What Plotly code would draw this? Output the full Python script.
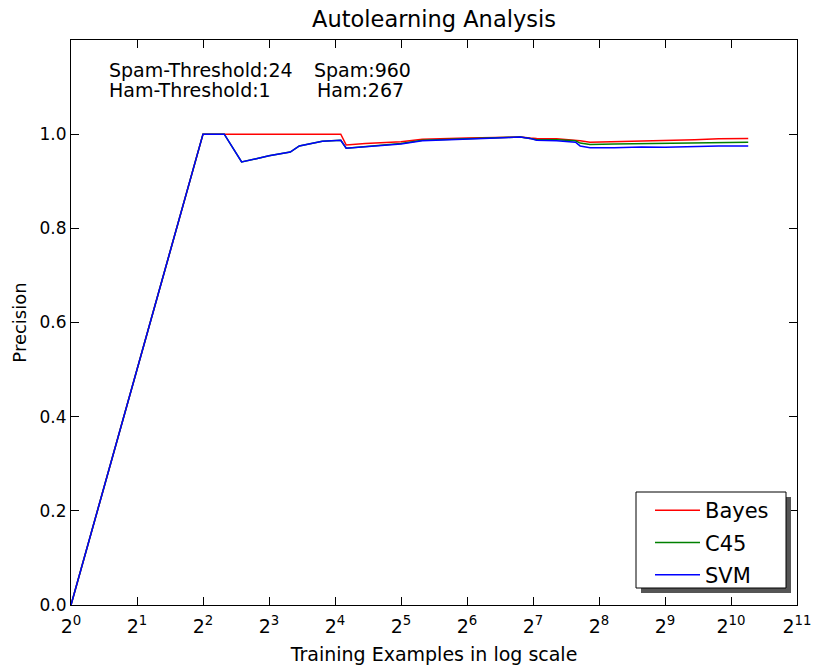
import plotly.graph_objects as go

# Training examples (x) and precision for each classifier
x_examples = [1, 4, 5, 6, 7, 8, 10, 11, 14, 17, 18, 22, 32, 40, 64, 112, 124, 133, 164,
              200, 210, 233, 300, 400, 512, 700, 900, 1227]
bayes = [0.0, 1.0, 1.0, 1.0, 1.0, 1.0, 1.0, 1.0, 1.0, 1.0, 0.977, 0.980, 0.984, 0.989,
         0.992, 0.994, 0.992, 0.991, 0.990, 0.988, 0.986, 0.983, 0.984, 0.985, 0.987,
         0.988, 0.990, 0.991]
c45 = [0.0, 1.0, 1.0, 0.941, 0.948, 0.954, 0.962, 0.975, 0.985, 0.987, 0.970, 0.973,
       0.980, 0.987, 0.990, 0.994, 0.991, 0.988, 0.988, 0.986, 0.981, 0.978, 0.979,
       0.980, 0.981, 0.982, 0.982, 0.983]
svm = [0.0, 1.0, 1.0, 0.941, 0.948, 0.954, 0.962, 0.975, 0.985, 0.987, 0.970, 0.973,
       0.979, 0.986, 0.990, 0.994, 0.991, 0.987, 0.986, 0.983, 0.975, 0.971, 0.971,
       0.973, 0.972, 0.974, 0.975, 0.975]

series_names = ["Bayes", "C45", "SVM"]
series_values = [bayes, c45, svm]
series_colors = ["#ff0000", "#008000", "#0000ff"]

x_tick_vals = [2 ** k for k in range(12)]
x_tick_text = [f"2<sup>{k}</sup>" for k in range(12)]
y_tick_vals = [0.0, 0.2, 0.4, 0.6, 0.8, 1.0]
y_tick_text = ["0.0", "0.2", "0.4", "0.6", "0.8", "1.0"]

FONT = "DejaVu Sans"

fig = go.Figure()
for name, vals, col in zip(series_names, series_values, series_colors):
    fig.add_trace(go.Scatter(x=x_examples, y=vals, mode="lines", name=name,
                             legendgroup=name,
                             line=dict(color=col, width=1.5)))

W, H = 815, 671
L, T = 71, 40
R = W - 797
B = H - 605
pw, ph = W - L - R, H - T - B

def px(xp):
    return (xp - L) / pw

def py(yp):
    return (H - B - yp) / ph

fig.update_layout(
    width=W, height=H,
    margin=dict(l=L, r=R, t=T, b=B, autoexpand=False),
    paper_bgcolor="white", plot_bgcolor="white",
    font=dict(family=FONT, color="black", size=17),
    title=dict(text="Autolearning Analysis", x=px(434), xref="paper", xanchor="center",
               y=1 - 19 / H, yanchor="middle", yref="container",
               font=dict(size=22.5, family=FONT, color="black")),
    showlegend=True,
    legend=dict(x=px(650), xanchor="left", y=py(490), yanchor="top",
                bgcolor="rgba(0,0,0,0)", borderwidth=0,
                font=dict(size=21, family=FONT, color="black"),
                itemwidth=45, tracegroupgap=2),
)

fig.update_xaxes(type="log", range=[0, 11 * 0.30103], tickvals=x_tick_vals,
                 ticktext=x_tick_text, ticks="inside", ticklen=8, tickcolor="black",
                 showline=True, linecolor="black", linewidth=1, mirror="ticks",
                 showgrid=False, zeroline=False, tickfont=dict(size=19),
                 ticklabelstandoff=4, automargin=False,
                 title=dict(text="Training Examples in log scale",
                            font=dict(size=19), standoff=11))
fig.update_yaxes(range=[0, 1.2], tickvals=y_tick_vals, ticktext=y_tick_text,
                 ticks="inside", ticklen=8, tickcolor="black",
                 showline=True, linecolor="black", linewidth=1, mirror="ticks",
                 showgrid=False, zeroline=False, tickfont=dict(size=17),
                 automargin=False,
                 title=dict(text="Precision", font=dict(size=18), standoff=8))

# legend shadow and frame
fig.add_shape(type="rect", xref="paper", yref="paper",
              x0=px(641), x1=px(791), y0=py(593), y1=py(497),
              fillcolor="#555555", line=dict(width=0), layer="above")
fig.add_shape(type="rect", xref="paper", yref="paper",
              x0=px(636), x1=px(786), y0=py(588), y1=py(492),
              fillcolor="white", line=dict(color="black", width=1), layer="above")

annots = [("Spam-Threshold:24", 107, 70), ("Spam:960", 312, 70),
          ("Ham-Threshold:1", 107, 90), ("Ham:267", 315, 90)]
for txt, ax, ay in annots:
    fig.add_annotation(text=txt, xref="paper", yref="paper", x=px(ax), y=py(ay),
                       xanchor="left", yanchor="middle", showarrow=False,
                       font=dict(size=19, family=FONT, color="black"))

fig.write_html("out.html",
               config={"displayModeBar": False},
               post_script="document.body.style.margin='0px';"
                           "document.body.style.overflow='hidden';")
